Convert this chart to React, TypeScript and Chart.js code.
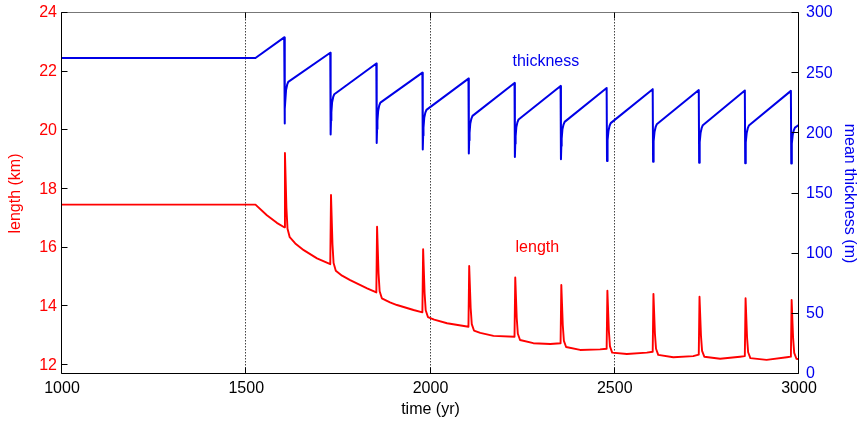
import React, { useEffect, useRef } from "react";
import { Chart, registerables } from "chart.js";

Chart.register(...registerables);

// ---- data ----
const lengthYears = [
  1000, 1525, 1556, 1583, 1603, 1605, 1609, 1612, 1618, 1633, 1656, 1692,
  1728, 1730, 1734, 1737, 1743, 1760, 1782, 1828,
  1853, 1855, 1859, 1862, 1868, 1890, 1909, 1954,
  1978, 1980, 1984, 1987, 1993, 2010, 2045,
  2103, 2105, 2109, 2112, 2118, 2135, 2171,
  2228, 2230, 2234, 2237, 2243, 2279, 2325,
  2353, 2355, 2359, 2362, 2368, 2406, 2460,
  2478, 2480, 2484, 2487, 2493, 2533, 2587,
  2603, 2605, 2609, 2612, 2618, 2659, 2713,
  2728, 2730, 2734, 2737, 2743, 2786, 2840,
  2853, 2855, 2859, 2862, 2868, 2912, 2967,
  2978, 2980, 2984, 2987, 2993, 3000,
];
const lengthKm = [
  17.47, 17.47, 17.11, 16.85, 16.7, 19.23, 17.36, 16.65, 16.36, 16.15, 15.92, 15.64,
  15.44, 17.8, 16.12, 15.48, 15.22, 15.05, 14.9, 14.62,
  14.48, 16.72, 15.13, 14.52, 14.28, 14.14, 14.05, 13.88,
  13.8, 15.95, 14.45, 13.87, 13.64, 13.55, 13.43,
  13.31, 15.38, 13.95, 13.4, 13.18, 13.1, 13.0,
  12.97, 14.99, 13.61, 13.07, 12.86, 12.75, 12.72,
  12.75, 14.73, 13.36, 12.83, 12.62, 12.52, 12.54,
  12.56, 14.54, 13.17, 12.64, 12.43, 12.38, 12.43,
  12.46, 14.43, 13.08, 12.56, 12.35, 12.27, 12.31,
  12.36, 14.33, 13.0, 12.49, 12.29, 12.22, 12.29,
  12.31, 14.28, 12.95, 12.44, 12.24, 12.18, 12.27,
  12.29, 14.22, 12.92, 12.42, 12.22, 12.2,
];

const thicknessYears = [
  1000, 1525,
  1603, 1604, 1605, 1606, 1608, 1611, 1614,
  1728, 1729, 1730, 1731, 1733, 1736, 1739,
  1853, 1854, 1855, 1856, 1858, 1861, 1864,
  1978, 1979, 1980, 1981, 1983, 1986, 1989,
  2103, 2104, 2105, 2106, 2108, 2111, 2114,
  2228, 2229, 2230, 2231, 2233, 2236, 2239,
  2353, 2354, 2355, 2356, 2358, 2361, 2364,
  2478, 2479, 2480, 2481, 2483, 2486, 2489,
  2603, 2604, 2605, 2606, 2608, 2611, 2614,
  2728, 2729, 2730, 2731, 2733, 2736, 2739,
  2853, 2854, 2855, 2856, 2858, 2861, 2864,
  2978, 2979, 2980, 2981, 2983, 2986, 2989,
  3000,
];
const thicknessM = [
  262.6, 262.6,
  279.7, 208.2, 220.3, 227.2, 235.9, 240.4, 242.8,
  267.0, 199.0, 210.7, 217.4, 225.8, 230.2, 232.5,
  258.0, 192.0, 203.7, 210.4, 218.8, 223.2, 225.5,
  250.4, 186.6, 198.1, 204.7, 212.9, 217.2, 219.5,
  245.5, 183.2, 194.2, 200.4, 208.2, 212.3, 214.5,
  241.9, 180.4, 191.3, 197.5, 205.3, 209.3, 211.5,
  239.4, 178.5, 189.4, 195.6, 203.3, 207.3, 209.5,
  237.7, 177.1, 188.1, 194.4, 202.2, 206.3, 208.5,
  236.7, 176.3, 187.2, 193.5, 201.3, 205.3, 207.5,
  236.0, 175.5, 186.5, 192.7, 200.5, 204.6, 206.8,
  235.6, 175.2, 186.2, 192.4, 200.2, 204.3, 206.5,
  235.3, 175.0, 185.4, 191.4, 198.8, 202.7, 204.8,
  207.0,
];

const timeTicks = [1000, 1500, 2000, 2500, 3000];
const lengthTicks = [12, 14, 16, 18, 20, 22, 24];
const thicknessTicks = [0, 50, 100, 150, 200, 250, 300];
const gridYears = [1500, 2000, 2500];

const thicknessLabel = { text: "thickness", year: 2313, value: 260 };
const lengthLabel = { text: "length", year: 2290, value: 16.0 };

// ---- styles ----
const FONT = "'Liberation Sans', Arial, Helvetica, sans-serif";
const RED = "#ff0000";
const BLUE = "#0000e6";
const BLUE_TEXT = "#0000ee";

export default function App() {
  const ref = useRef<HTMLCanvasElement>(null);

  useEffect(() => {
    const canvas = ref.current;
    if (!canvas) return;

    const framePlugin = {
      id: "frame",
      beforeDatasetsDraw(chart: any) {
        const { ctx, chartArea, scales } = chart;
        ctx.save();
        ctx.strokeStyle = "#444";
        ctx.lineWidth = 1;
        ctx.setLineDash([1.5, 1.5]);
        gridYears.forEach((v) => {
          const px = Math.round(scales.x.getPixelForValue(v)) - 0.5;
          ctx.beginPath();
          ctx.moveTo(px, chartArea.top);
          ctx.lineTo(px, chartArea.bottom);
          ctx.stroke();
        });
        ctx.restore();
      },
      afterDatasetsDraw(chart: any) {
        const { ctx, chartArea, scales } = chart;
        const l = Math.round(chartArea.left) - 0.5;
        const r = Math.round(chartArea.right) - 0.5;
        const t = Math.round(chartArea.top) - 0.5;
        const b = Math.round(chartArea.bottom) - 0.5;
        ctx.save();
        ctx.lineWidth = 1;
        ctx.setLineDash([]);
        // top border (grey)
        ctx.strokeStyle = "#777";
        ctx.beginPath();
        ctx.moveTo(l, t);
        ctx.lineTo(r, t);
        ctx.stroke();
        // left, bottom, right borders
        ctx.strokeStyle = "#000";
        ctx.beginPath();
        ctx.moveTo(l, t);
        ctx.lineTo(l, b);
        ctx.lineTo(r, b);
        ctx.lineTo(r, t);
        ctx.stroke();
        // inward tick marks
        ctx.beginPath();
        lengthTicks.forEach((v) => {
          const py = Math.round(scales.y.getPixelForValue(v)) - 0.5;
          ctx.moveTo(l, py);
          ctx.lineTo(l + 6, py);
        });
        thicknessTicks.forEach((v) => {
          const py = Math.round(scales.y1.getPixelForValue(v)) - 0.5;
          ctx.moveTo(r, py);
          ctx.lineTo(r - 7, py);
        });
        timeTicks.forEach((v) => {
          const px = Math.round(scales.x.getPixelForValue(v)) - 0.5;
          ctx.moveTo(px, b);
          ctx.lineTo(px, b - 6);
          ctx.moveTo(px, t);
          ctx.lineTo(px, t + 6);
        });
        ctx.stroke();
        // in-plot labels
        ctx.font = `16px ${FONT}`;
        ctx.textAlign = "center";
        ctx.textBaseline = "middle";
        ctx.fillStyle = BLUE_TEXT;
        ctx.fillText(
          thicknessLabel.text,
          scales.x.getPixelForValue(thicknessLabel.year),
          scales.y1.getPixelForValue(thicknessLabel.value)
        );
        ctx.fillStyle = RED;
        ctx.fillText(
          lengthLabel.text,
          scales.x.getPixelForValue(lengthLabel.year),
          scales.y.getPixelForValue(lengthLabel.value)
        );
        ctx.restore();
      },
    };

    const fixVertical = (s: any) => {
      s.width = 62;
      s.paddingTop = 0;
      s.paddingBottom = 0;
    };

    const chart = new Chart(canvas, {
      type: "line",
      data: {
        datasets: [
          {
            label: "thickness",
            data: thicknessYears.map((x, i) => ({ x, y: thicknessM[i] })),
            yAxisID: "y1",
            borderColor: BLUE,
            borderWidth: 2,
            borderJoinStyle: "round",
            pointRadius: 0,
            tension: 0,
            fill: false,
          },
          {
            label: "length",
            data: lengthYears.map((x, i) => ({ x, y: lengthKm[i] })),
            yAxisID: "y",
            borderColor: RED,
            borderWidth: 1.9,
            borderJoinStyle: "round",
            pointRadius: 0,
            tension: 0,
            fill: false,
          },
        ],
      },
      options: {
        animation: false,
        responsive: false,
        maintainAspectRatio: false,
        devicePixelRatio: 1,
        layout: { padding: { top: 13, left: 0, right: 0, bottom: 0 } },
        plugins: {
          legend: { display: false },
          tooltip: { enabled: false },
        },
        scales: {
          x: {
            type: "linear",
            min: 1000,
            max: 3000,
            afterBuildTicks: (s: any) => {
              s.ticks = timeTicks.map((value) => ({ value }));
            },
            afterFit: (s: any) => {
              s.height = 54;
              s.paddingLeft = 0;
              s.paddingRight = 0;
            },
            grid: { display: false, drawTicks: false },
            border: { display: false },
            ticks: {
              color: "#000",
              padding: 5,
              maxRotation: 0,
              font: { family: FONT, size: 16 },
              callback: (v: any) => String(v),
            },
            title: {
              display: true,
              text: "time (yr)",
              color: "#000",
              font: { family: FONT, size: 16 },
              padding: { top: 0, bottom: 9 },
            },
          },
          y: {
            type: "linear",
            position: "left",
            min: 11.7,
            max: 24,
            afterBuildTicks: (s: any) => {
              s.ticks = lengthTicks.map((value) => ({ value }));
            },
            afterFit: fixVertical,
            grid: { display: false, drawTicks: false },
            border: { display: false },
            ticks: {
              color: RED,
              padding: 5,
              font: { family: FONT, size: 16 },
              callback: (v: any) => String(v),
            },
            title: {
              display: true,
              text: "length (km)",
              color: RED,
              font: { family: FONT, size: 16 },
              padding: { top: 6, bottom: 0 },
            },
          },
          y1: {
            type: "linear",
            position: "right",
            min: 0,
            max: 300,
            afterBuildTicks: (s: any) => {
              s.ticks = thicknessTicks.map((value) => ({ value }));
            },
            afterFit: fixVertical,
            grid: { display: false, drawTicks: false },
            border: { display: false },
            ticks: {
              color: BLUE_TEXT,
              padding: 7,
              font: { family: FONT, size: 16 },
              callback: (v: any) => String(v),
            },
            title: {
              display: true,
              text: "mean thickness (m)",
              color: BLUE_TEXT,
              font: { family: FONT, size: 16 },
              padding: { top: 1.5, bottom: 0 },
            },
          },
        },
      },
      plugins: [framePlugin],
    } as any);

    return () => chart.destroy();
  }, []);

  return (
    <div
      style={{
        position: "fixed",
        left: 0,
        top: 0,
        width: 861,
        height: 428,
        background: "#fff",
      }}
    >
      <canvas ref={ref} width={861} height={428} style={{ display: "block" }} />
    </div>
  );
}
